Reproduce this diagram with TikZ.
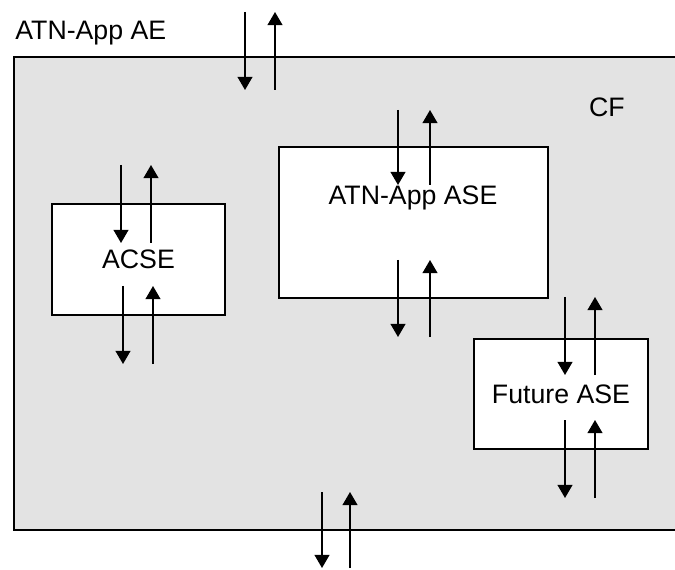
\documentclass[tikz,border=0pt]{standalone}
\usepackage{fontspec}
\setmainfont{Liberation Sans}
\usepackage{tikz}
\usetikzlibrary{arrows.meta}
\usepackage{xcolor}
\definecolor{cfgray}{RGB}{227,227,227}

\begin{document}
\begin{tikzpicture}[x=0.02cm, y=-0.02cm,
    font=\fontsize{15.2}{17}\selectfont,
    sig/.style={line width=0.85pt, -{Triangle[length=7.5pt,width=8.5pt]}},
    asebox/.style={draw, line width=0.85pt, fill=white, inner sep=0pt}]
    \useasboundingbox (0,0) rectangle (675,570);
    % the AE and its CF
    \fill[cfgray] (14,57) rectangle (675,530);
    \draw[line width=0.85pt] (675,57) -- (14,57) -- (14,530) -- (675,530);
    \node[anchor=west, inner sep=0pt] (ae) at (15,33) {ATN-App AE};
    \node (cf) at (607,107) {CF};
    % the ASEs
    \node[asebox, minimum width=269*0.02cm, minimum height=151*0.02cm] (appase) at (413.5,222.5) {};
    \node (appasetext) at (413,198) {ATN-App ASE};
    \node[asebox, minimum width=173*0.02cm, minimum height=111*0.02cm] (acse) at (138.5,259.5) {ACSE};
    \node[asebox, minimum width=174*0.02cm, minimum height=110*0.02cm] (future) at (561,394) {Future ASE};
    % primitives in and out
    \foreach \n/\x/\xx/\ya/\yb in {ae/245/275/12/90, appin/398/430/110/185, appout/398/430/260/337,
        acsein/121/151/165/243, acseout/123/153/286/364, futin/565/595/297/375,
        futout/565/595/420/498, cfout/322/350/492/568}{
        \coordinate (\n-dtop) at (\x,\ya);
        \coordinate (\n-dbot) at (\x,\yb);
        \coordinate (\n-utop) at (\xx,\ya);
        \coordinate (\n-ubot) at (\xx,\yb);
        \draw[sig] (\n-dtop) -- (\n-dbot);
        \draw[sig] (\n-ubot) -- (\n-utop);
    }
\end{tikzpicture}
\end{document}
